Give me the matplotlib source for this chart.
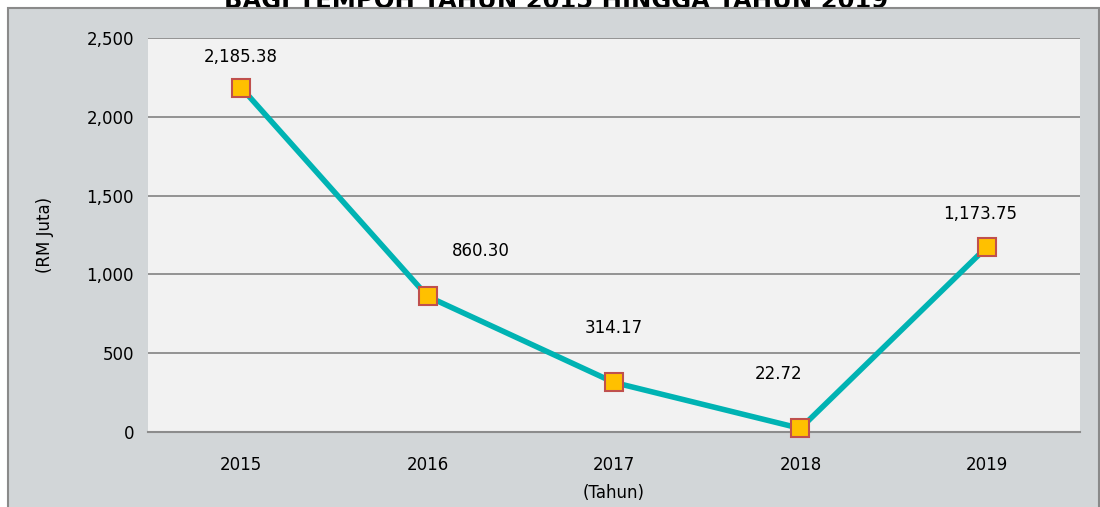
import matplotlib.pyplot as plt
from matplotlib.patches import Rectangle

years = ['2015', '2016', '2017', '2018', '2019']
values = [2185.38, 860.30, 314.17, 22.72, 1173.75]
labels = ['2,185.38', '860.30', '314.17', '22.72', '1,173.75']
# label offsets in pixels (dx, dy) from each marker
offsets = [(0, 31), (53, 45), (0, 54), (-22, 54), (-7, 33)]
yticks = [0, 500, 1000, 1500, 2000, 2500]

plt.rcParams['font.family'] = ['DejaVu Sans']

fig = plt.figure(figsize=(11, 5.07), dpi=100)
W, H = 1100, 507

# title, mostly cut off at the top edge (as in the source image)
fig.text(556 / W, 1 - 8 / H, 'BAGI TEMPOH TAHUN 2015 HINGGA TAHUN 2019',
         ha='center', va='baseline', fontsize=17.5, fontweight='bold', zorder=0)

# grey chart panel
panel = Rectangle((8 / W, -0.01), 1091 / W, 1 - 8 / H + 0.01, transform=fig.transFigure,
                  facecolor='#d2d6d8', edgecolor='#8a8a8a', linewidth=1.5, zorder=1)
fig.patches.append(panel)

ax = fig.add_axes([148 / W, (H - 432) / H, 932 / W, 394 / H])
ax.set_zorder(2)
ax.set_facecolor('#f2f2f2')

x = list(range(len(years)))
ax.plot(x, values, color='#00b3b3', linewidth=4, marker='s', markersize=13.5,
        markerfacecolor='#ffc000', markeredgecolor='#c0504d', markeredgewidth=1.5,
        zorder=3, clip_on=False)

for xi, v, lab, (dx, dy) in zip(x, values, labels, offsets):
    ax.annotate(lab, (xi, v), xytext=(dx, dy), textcoords='offset pixels',
                ha='center', va='center', fontsize=12, color='black')

ax.set_xlim(-0.5, len(years) - 0.5)
ax.set_ylim(0, 2500)
ax.set_xticks(x)
ax.set_xticklabels(years)
ax.set_yticks(yticks)
ax.set_yticklabels([f'{t:,}' for t in yticks])
ax.tick_params(axis='both', length=0, labelsize=12, pad=10)
ax.tick_params(axis='x', pad=17)

ax.grid(axis='y', color='#8c8c8c', linewidth=1.3)
ax.set_axisbelow(True)
for s in ['left', 'right', 'top']:
    ax.spines[s].set_visible(False)
ax.spines['bottom'].set_color('#8c8c8c')
ax.spines['bottom'].set_linewidth(1.5)

fig.text(45 / W, 1 - 235 / H, '(RM Juta)', rotation=90, ha='center', va='center', fontsize=12)
fig.text(614 / W, 1 - 493 / H, '(Tahun)', ha='center', va='center', fontsize=12)

fig.savefig('out.png', dpi=100)
